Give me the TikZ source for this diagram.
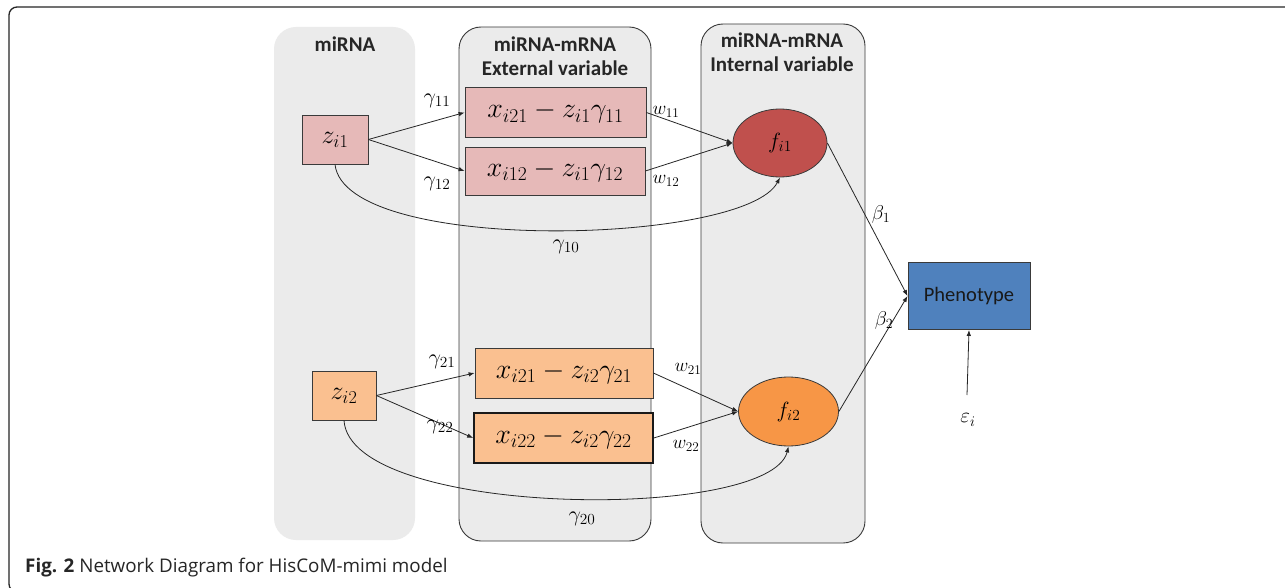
\RequirePackage{fix-cm}
\documentclass[tikz,border=0pt]{standalone}
\usepackage{fontspec}
\usetikzlibrary{shapes.geometric,arrows.meta}
\newfontfamily\headfont{Carlito}
\newfontfamily\capfont{Open Sans}
\definecolor{colfill}{HTML}{EBEBEB}
\definecolor{pinkbox}{HTML}{E6B9B8}
\definecolor{peachbox}{HTML}{FAC090}
\definecolor{redell}{HTML}{C0504D}
\definecolor{orangeell}{HTML}{F79646}
\definecolor{phenoblue}{HTML}{4F81BD}
\definecolor{edge}{HTML}{3A3A3A}
\begin{document}
\begin{tikzpicture}[x=1pt,y=-1pt,
  column/.style={fill=colfill,rounded corners=22pt,inner sep=0pt},
  framedcol/.style={column,draw=edge,line width=0.9pt},
  head/.style={font=\headfont\bfseries\fontsize{21}{23.5}\selectfont,align=center,text=black!85},
  pinkrect/.style={draw=edge,fill=pinkbox,line width=0.8pt,inner sep=0pt},
  peachrect/.style={draw=edge,fill=peachbox,line width=0.8pt,inner sep=0pt},
  mathbig/.style={font=\fontsize{28}{32}\selectfont},
  lbl/.style={font=\fontsize{22}{26}\selectfont,inner sep=1pt},
  tlbl/.style={font=\fontsize{19}{22}\selectfont,inner sep=1pt},
  arr/.style={draw=black!85,line width=0.8pt,-{Latex[length=6pt,width=4.5pt]}},
]
\useasboundingbox (0,0) rectangle (1285,588);
\fill[white] (0,0) rectangle (1285,588);
% outer frame
\draw[line width=1.3pt,draw=black!85,rounded corners=8pt] (1300,7) -- (9,7) -- (9,592) -- (60,592);
% columns
\node[column,minimum width=141pt,minimum height=513pt] (colA) at (344.5,283.5) {};
\node[framedcol,minimum width=192pt,minimum height=514pt] (colB) at (555,284) {};
\node[framedcol,minimum width=164pt,minimum height=519pt] (colC) at (783,283.5) {};
\node[head] (hA) at (345,44) {miRNA};
\node[head] (hB) at (555,56) {miRNA-mRNA\\External variable};
\node[head] (hC) at (782,52) {miRNA-mRNA\\Internal variable};
% nodes
\node[pinkrect,minimum width=66pt,minimum height=49pt,font=\fontsize{26}{28}\selectfont] (z1) at (335,139.5) {$z_{i1}$};
\node[pinkrect,minimum width=181pt,minimum height=50pt,mathbig] (x11) at (555.5,112.5) {$x_{i21}-z_{i1}\gamma_{11}$};
\node[pinkrect,minimum width=180pt,minimum height=48pt,mathbig] (x12) at (555,171) {$x_{i12}-z_{i1}\gamma_{12}$};
\node[ellipse,draw=edge,fill=redell,line width=0.8pt,minimum width=94pt,minimum height=68pt,inner sep=0pt,font=\fontsize{22}{24}\selectfont] (f1) at (780,143) {$f_{i1}$};
\node[peachrect,minimum width=64pt,minimum height=49pt,font=\fontsize{26}{28}\selectfont] (z2) at (344,395.5) {$z_{i2}$};
\node[peachrect,minimum width=178pt,minimum height=50pt,mathbig] (x21) at (564,373) {$x_{i21}-z_{i2}\gamma_{21}$};
\node[peachrect,line width=1.6pt,draw=black!90,minimum width=179pt,minimum height=50pt,mathbig] (x22) at (563.5,438) {$x_{i22}-z_{i2}\gamma_{22}$};
\node[ellipse,draw=edge,fill=orangeell,line width=0.8pt,minimum width=100pt,minimum height=69pt,inner sep=0pt,font=\fontsize{22}{24}\selectfont] (f2) at (788.5,411.5) {$f_{i2}$};
\node[draw=edge,fill=phenoblue,line width=0.9pt,minimum width=122pt,minimum height=67pt,inner sep=0pt,font=\headfont\fontsize{20.5}{24}\selectfont,text=black!90] (ph) at (969,296) {Phenotype};
\node[tlbl,font=\fontsize{21}{24}\selectfont] (eps) at (968,420) {$\varepsilon_{i}$};
\coordinate (epstop) at (967,395);
% edges
\draw[arr] (z1.east) -- (x11.west);
\draw[arr] (z1.east) -- (x12.west);
\draw[arr] (x11.east) -- (f1.west);
\draw[arr] (x12.east) -- (f1.west);
\draw[arr] (z1.south) .. controls (345,255) and (745,245) .. (f1.south);
\draw[arr] (f1.east) -- (ph.west);
\draw[arr] (z2.east) -- (x21.west);
\draw[arr] (z2.east) -- (x22.west);
\draw[arr] (x21.east) -- (f2.west);
\draw[arr] (x22.east) -- (f2.west);
\draw[arr] (z2.south) .. controls (350,518) and (770,522) .. (f2.south);
\draw[arr] (f2.east) -- (ph.west);
\draw[arr] (epstop) -- (ph.south);
% labels
\node[lbl] (g11) at (437,101) {$\gamma_{11}$};
\node[lbl] (g12) at (437,184) {$\gamma_{12}$};
\node[lbl] (g10) at (566,247) {$\gamma_{10}$};
\node[tlbl] (w11) at (666,112) {$w_{11}$};
\node[tlbl] (w12) at (666,181) {$w_{12}$};
\node[tlbl,font=\fontsize{20}{24}\selectfont] (b1) at (881,215) {$\beta_{1}$};
\node[lbl] (g21) at (442,362) {$\gamma_{21}$};
\node[lbl] (g22) at (440,427) {$\gamma_{22}$};
\node[lbl] (g20) at (582,519) {$\gamma_{20}$};
\node[tlbl] (w21) at (688,369) {$w_{21}$};
\node[tlbl] (w22) at (686,446) {$w_{22}$};
\node[tlbl,font=\fontsize{20}{24}\selectfont] (b2) at (884,320) {$\beta_{2}$};
% caption
\node[anchor=west,inner sep=0pt,font=\capfont\fontsize{18.8}{22}\selectfont,text=black!85] (cap) at (25,568) {\textbf{Fig. 2} Network Diagram for HisCoM-mimi model};
\end{tikzpicture}
\end{document}
